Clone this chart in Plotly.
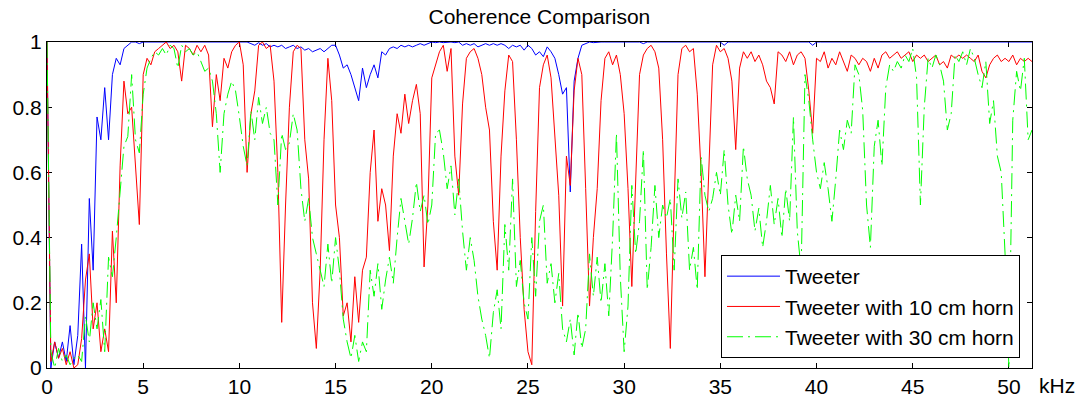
import plotly.graph_objects as go

# Frequency axis in kHz (0.2 kHz spacing, 0 .. 51.2)
freq_khz = [round(0.2 * i, 1) for i in range(257)]

# Coherence of the bare tweeter (rows of 2 kHz)
tweeter = [
    1.0, 0.0, 0.08, 0.03, 0.08, 0.02, 0.13, 0.01, 0.10, 0.38,
    0.0, 0.52, 0.30, 0.77, 0.70, 0.86, 0.70, 0.90, 0.95, 0.93,
    0.98, 0.99, 1.0, 1.0, 0.995, 1.0, 1.0, 1.0, 1.0, 1.0,
    1.0, 1.0, 1.0, 1.0, 1.0, 1.0, 1.0, 1.0, 1.0, 1.0,
    1.0, 1.0, 1.0, 1.0, 1.0, 1.0, 1.0, 1.0, 1.0, 1.0,
    1.0, 1.0, 1.0, 0.995, 0.99, 0.998, 0.99, 0.995, 0.985, 0.99,
    0.985, 0.99, 0.98, 0.985, 0.99, 0.98, 0.985, 0.975, 0.98, 0.97,
    0.975, 0.98, 0.97, 0.98, 0.99, 0.99, 0.96, 0.92, 0.93, 0.90,
    0.86, 0.82, 0.92, 0.86, 0.90, 0.93, 0.89, 0.97, 0.96, 0.98,
    0.985, 0.98, 0.99, 0.985, 0.99, 0.985, 0.99, 0.995, 0.99, 0.995,
    1.0, 0.998, 1.0, 0.998, 1.0, 1.0, 0.998, 1.0, 0.99, 0.995,
    0.99, 0.995, 0.985, 0.99, 0.995, 0.99, 0.995, 0.99, 0.995, 0.99,
    0.98, 0.99, 0.985, 0.99, 0.975, 0.99, 0.98, 0.96, 0.97, 0.955,
    0.985, 0.97, 0.95, 0.90, 0.84, 0.86, 0.54, 0.88, 0.95, 0.99,
    0.995, 1.0, 0.998, 1.0, 1.0, 1.0, 1.0, 1.0, 1.0, 1.0,
    1.0, 1.0, 1.0, 0.998, 1.0, 0.995, 1.0, 1.0, 1.0, 1.0,
    1.0, 1.0, 1.0, 1.0, 1.0, 1.0, 1.0, 1.0, 1.0, 1.0,
    1.0, 1.0, 1.0, 1.0, 1.0, 1.0, 0.99, 1.0, 1.0, 1.0,
    1.0, 1.0, 1.0, 1.0, 1.0, 1.0, 1.0, 1.0, 1.0, 1.0,
    1.0, 1.0, 1.0, 1.0, 1.0, 1.0, 1.0, 1.0, 1.0, 0.99,
    1.0, 1.0, 1.0, 1.0, 1.0, 1.0, 1.0, 1.0, 1.0, 1.0,
    1.0, 1.0, 1.0, 1.0, 1.0, 1.0, 1.0, 1.0, 1.0, 1.0,
    1.0, 1.0, 1.0, 1.0, 1.0, 1.0, 1.0, 1.0, 1.0, 1.0,
    1.0, 1.0, 1.0, 1.0, 1.0, 1.0, 1.0, 1.0, 1.0, 1.0,
    1.0, 1.0, 1.0, 1.0, 1.0, 1.0, 1.0, 1.0, 1.0, 1.0,
    1.0, 1.0, 1.0, 1.0, 1.0, 1.0, 1.0,
]

# Coherence with 10 cm horn
horn_10cm = [
    1.0, 0.02, 0.08, 0.03, 0.06, 0.01, 0.05, 0.0, 0.01, 0.09,
    0.27, 0.35, 0.12, 0.20, 0.05, 0.12, 0.05, 0.42, 0.20, 0.62,
    0.88, 0.78, 0.80, 0.62, 0.44, 0.90, 0.95, 0.93, 0.97, 0.98,
    0.99, 1.0, 0.98, 0.99, 0.97, 0.88, 0.99, 0.98, 0.96, 0.99,
    0.97, 0.99, 0.96, 0.74, 0.90, 0.82, 0.95, 0.92, 0.97, 0.99,
    1.0, 0.93, 0.60, 0.78, 0.85, 0.99, 1.0, 0.98, 0.99, 0.88,
    0.60, 0.14, 0.50, 0.80, 0.97, 0.99, 0.98, 0.70, 0.58, 0.20,
    0.06, 0.30, 0.70, 0.95, 0.82, 0.50, 0.40, 0.16, 0.20, 0.08,
    0.28, 0.14, 0.30, 0.34, 0.60, 0.73, 0.45, 0.55, 0.50, 0.36,
    0.65, 0.78, 0.72, 0.84, 0.75, 0.82, 0.87, 0.78, 0.31, 0.50,
    0.89, 0.93, 0.97, 0.99, 0.91, 0.98, 0.65, 0.53, 0.81, 0.95,
    0.97, 0.98, 0.95, 0.90, 0.80, 0.73, 0.45, 0.30, 0.65, 0.85,
    0.96, 0.94, 0.70, 0.40, 0.18, 0.05, 0.01, 0.48, 0.86, 0.93,
    0.96, 0.89, 0.71, 0.53, 0.19, 0.65, 0.56, 0.85, 0.95, 0.90,
    0.55, 0.19, 0.40, 0.55, 0.82, 0.95, 0.97, 0.93, 0.96, 0.90,
    0.78, 0.55, 0.25, 0.55, 0.90, 0.96, 0.98, 0.99, 0.97, 0.92,
    0.70, 0.35, 0.06, 0.50, 0.90, 0.98, 0.99, 0.97, 0.98, 0.84,
    0.60, 0.28, 0.60, 0.93, 0.99, 0.97, 0.98, 0.95, 0.88, 0.67,
    0.92, 0.97, 0.95, 0.97, 0.94, 0.96, 0.93, 0.88, 0.86, 0.81,
    0.97, 0.96, 0.94, 0.97, 0.93, 0.96, 0.97, 0.95, 0.85, 0.72,
    0.95, 0.94, 0.97, 0.92, 0.95, 0.93, 0.97, 0.94, 0.91, 0.96,
    0.95, 0.93, 0.95, 0.94, 0.91, 0.95, 0.92, 0.96, 0.97, 0.95,
    0.96, 0.97, 0.95, 0.96, 0.97, 0.94, 0.96, 0.95, 0.96, 0.94,
    0.95, 0.96, 0.93, 0.94, 0.92, 0.96, 0.95, 0.96, 0.95, 0.96,
    0.95, 0.94, 0.96, 0.91, 0.89, 0.93, 0.95, 0.96, 0.94, 0.95,
    0.94, 0.96, 0.93, 0.95, 0.94, 0.95, 0.94,
]

# Coherence with 30 cm horn
horn_30cm = [
    1.0, 0.05, 0.0, 0.06, 0.02, 0.04, 0.01, 0.03, 0.04, 0.02,
    0.16, 0.08, 0.20, 0.12, 0.21, 0.05, 0.34, 0.28, 0.40, 0.55,
    0.68, 0.71, 0.90, 0.70, 0.66, 0.84, 0.92, 0.95, 0.97, 0.96,
    0.98, 0.96, 0.99, 0.98, 0.92, 0.99, 0.97, 0.98, 0.96, 0.97,
    0.94, 0.91, 0.92, 0.88, 0.78, 0.60, 0.78, 0.84, 0.88, 0.85,
    0.77, 0.68, 0.62, 0.79, 0.70, 0.83, 0.75, 0.80, 0.72, 0.70,
    0.50, 0.72, 0.67, 0.69, 0.78, 0.73, 0.55, 0.45, 0.52, 0.40,
    0.35, 0.30, 0.25, 0.38, 0.26, 0.40, 0.30, 0.15, 0.08, 0.03,
    0.10, 0.02, 0.08, 0.05, 0.30, 0.22, 0.32, 0.18, 0.27, 0.34,
    0.26, 0.40, 0.52, 0.45, 0.38, 0.46, 0.57, 0.48, 0.53, 0.44,
    0.50, 0.72, 0.73, 0.66, 0.55, 0.62, 0.47, 0.58, 0.42, 0.30,
    0.40, 0.33, 0.22, 0.15, 0.10, 0.03, 0.17, 0.24, 0.12, 0.44,
    0.30, 0.58, 0.25, 0.33, 0.20, 0.15, 0.40, 0.22, 0.45, 0.50,
    0.26, 0.32, 0.20, 0.29, 0.12, 0.08, 0.15, 0.04, 0.17, 0.06,
    0.12, 0.35, 0.22, 0.34, 0.20, 0.32, 0.16, 0.40, 0.72, 0.28,
    0.05, 0.19, 0.56, 0.35, 0.45, 0.67, 0.24, 0.37, 0.56, 0.40,
    0.50, 0.46, 0.52, 0.30, 0.58, 0.46, 0.54, 0.30, 0.37, 0.24,
    0.65, 0.53, 0.48, 0.52, 0.60, 0.53, 0.67, 0.50, 0.41, 0.53,
    0.45, 0.68, 0.58, 0.53, 0.42, 0.49, 0.37, 0.45, 0.56, 0.44,
    0.52, 0.40, 0.55, 0.45, 0.77, 0.42, 0.30, 0.90, 0.82, 0.70,
    0.60, 0.55, 0.63, 0.55, 0.45, 0.58, 0.73, 0.67, 0.76, 0.72,
    0.93, 0.90, 0.79, 0.50, 0.37, 0.68, 0.76, 0.62, 0.86, 0.93,
    0.91, 0.94, 0.92, 0.96, 0.94, 0.98, 0.89, 0.50, 0.80, 0.95,
    0.92, 0.96, 0.93, 0.88, 0.73, 0.78, 0.96, 0.94, 0.97, 0.93,
    0.98, 0.95, 0.90, 0.86, 0.94, 0.75, 0.82, 0.65, 0.60, 0.35,
    0.0, 0.76, 0.91, 0.85, 0.95, 0.70, 0.73,
]

series_names = ["Tweeter", "Tweeter with 10 cm horn", "Tweeter with 30 cm horn"]
series_colors = ["#0000FF", "#FF0000", "#00FF00"]
series_dash = ["solid", "solid", "16px,5px,2px,5px"]
x_ticks = [0, 5, 10, 15, 20, 25, 30, 35, 40, 45, 50]
y_ticks = [0, 0.2, 0.4, 0.6, 0.8, 1]

FONT = "Arial, 'Liberation Sans', sans-serif"
FS = 21

fig = go.Figure()
for name, vals, col, dash in zip(series_names, [tweeter, horn_10cm, horn_30cm],
                                 series_colors, series_dash):
    fig.add_trace(go.Scatter(x=freq_khz, y=vals, mode="lines", name=name,
                             line=dict(color=col, width=1, dash=dash)))

axis_common = dict(showline=True, linecolor="black", linewidth=1, mirror="ticks",
                   ticks="inside", ticklen=5, tickcolor="black", showgrid=False,
                   zeroline=False, layer="below traces", automargin=False,
                   tickfont=dict(family=FONT, size=FS, color="black"))

fig.update_layout(
    width=1081, height=402,
    margin=dict(l=47, r=49, t=42, b=34, pad=0),
    paper_bgcolor="white", plot_bgcolor="white",
    title=dict(text="Coherence Comparison", x=0.499, xanchor="center",
               y=1 - 17 / 402, yanchor="middle",
               font=dict(family=FONT, size=FS, color="black")),
    xaxis=dict(range=[0, 51.2], tickvals=x_ticks, **axis_common),
    yaxis=dict(range=[0, 1], tickvals=y_ticks, **axis_common),
    legend=dict(x=(1020 - 47) / 985, xanchor="right", y=10 / 326, yanchor="bottom",
                bgcolor="white", bordercolor="black", borderwidth=1,
                font=dict(family=FONT, size=FS, color="black"),
                itemwidth=53, tracegroupgap=0),
    showlegend=True,
    hovermode=False,
    annotations=[dict(text="kHz", xref="paper", yref="paper", x=(1057 - 47) / 985,
                      y=-17 / 326, xanchor="center", yanchor="middle", showarrow=False,
                      font=dict(family=FONT, size=FS, color="black"))],
)

fig.write_html("out.html",
               config={"displayModeBar": False},
               post_script="document.body.style.margin='0';document.body.style.overflow='hidden';")
